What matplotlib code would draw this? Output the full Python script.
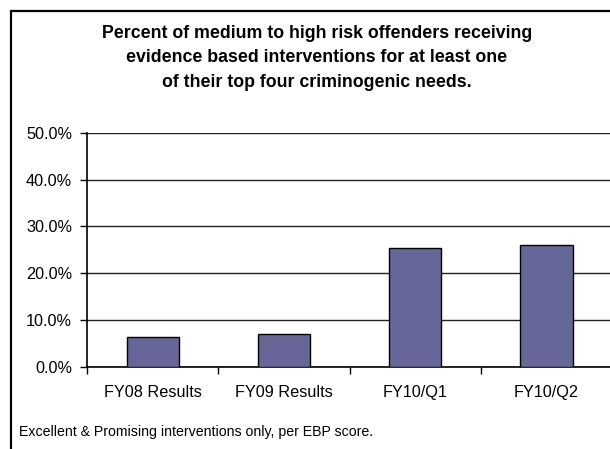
import numpy as np
import matplotlib.pyplot as plt
from matplotlib.patches import Rectangle
from matplotlib.ticker import PercentFormatter

plt.rcParams['font.family'] = ['Liberation Sans', 'DejaVu Sans']

categories = ['FY08 Results', 'FY09 Results', 'FY10/Q1', 'FY10/Q2']
percent = [6.4, 6.9, 25.3, 25.9]
yticks = [0, 10, 20, 30, 40, 50]

title = ('Percent of medium to high risk offenders receiving\n'
         'evidence based interventions for at least one\n'
         'of their top four criminogenic needs.')
note = 'Excellent & Promising interventions only, per EBP score.'

W, H = 610, 449
fig = plt.figure(figsize=(W / 100, H / 100), dpi=100)
fig.patch.set_facecolor('white')

# outer chart border (right and bottom run off the picture)
fig.patches.append(Rectangle((10.5 / W, -0.05), 1.2, 1.05 - 10.5 / H,
                             transform=fig.transFigure, fill=False,
                             edgecolor='black', lw=1.6))

ax = fig.add_axes([87.3 / W, 1 - 366.7 / H, (612 - 87.3) / W, (366.7 - 132.7) / H])
ind = np.arange(len(categories))
ax.bar(ind, percent, 0.4, color='#666699', edgecolor='black', linewidth=1, zorder=3)

ax.set_xlim(-0.5, len(categories) - 0.5)
ax.set_ylim(0, 50)
ax.set_yticks(yticks)
ax.yaxis.set_major_formatter(PercentFormatter(decimals=1))
ax.grid(axis='y', color='#222222', lw=1, zorder=0)
ax.set_axisbelow(True)

ax.set_xticks(ind)
ax.set_xticklabels(categories)
ax.set_xticks(ind - 0.5, minor=True)
ax.tick_params(axis='x', which='major', length=0, pad=13, labelsize=11.7)
ax.tick_params(axis='x', which='minor', length=5, width=1, direction='out')
ax.tick_params(axis='y', length=5, width=1, direction='out', pad=6, labelsize=11.7)

for s in ['top', 'right']:
    ax.spines[s].set_visible(False)
for s in ['left', 'bottom']:
    ax.spines[s].set_linewidth(1.2)
    ax.spines[s].set_color('black')

fig.text(317 / W, 1 - 58 / H, title, ha='center', va='center',
         fontsize=12.8, fontweight='bold', linespacing=1.56)
fig.text(19 / W, 1 - 431.7 / H, note, ha='left', va='center', fontsize=10.2)

fig.savefig('out.png', dpi=100)
